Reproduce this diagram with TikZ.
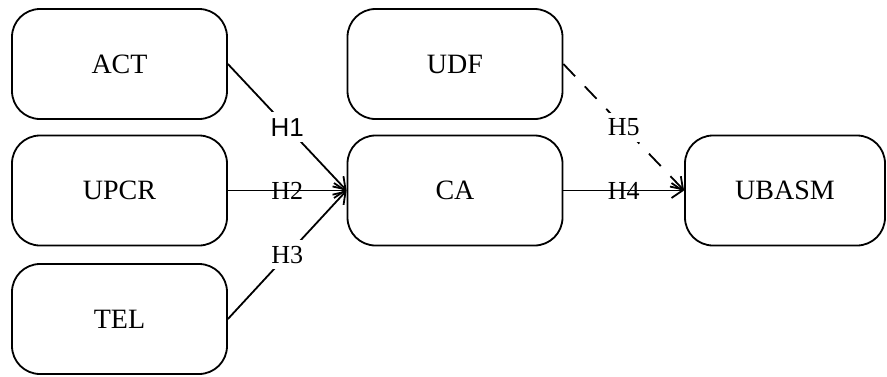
\documentclass[tikz,border=0pt]{standalone}
\usepackage{fontspec}
\setmainfont{Liberation Serif}
\newfontfamily\hsans{Liberation Sans}
\usetikzlibrary{arrows.meta}
\usetikzlibrary{positioning}
\tikzset{
    factor/.style={draw=black, rounded corners=28pt, minimum width=215pt,
        minimum height=110pt, inner sep=0pt, font=\fontsize{28}{32}\selectfont},
    effect/.style={draw=black, -{Straight Barb[length=11pt,width=15pt]}},
    effectdash/.style={effect, dash pattern=on 17pt off 14pt},
    hyp/.style={fill=white, inner sep=6pt, font=\fontsize{26}{30}\selectfont},
    hypline/.style={inner sep=0pt, font=\fontsize{26}{30}\selectfont},
}

\begin{document}
\begin{tikzpicture}[x=1pt, y=-1pt, line width=1.8pt]
	\useasboundingbox (0,0) rectangle (887,376);
	% antecedents
	\node[factor] (act) at (119.5,64) {ACT};
	\node[factor] (upcr) at (119.5,190.5) {UPCR};
	\node[factor] (tel) at (119.5,319) {TEL};
	% mediator and moderator
	\node[factor] (udf) at (455,64) {UDF};
	\node[factor] (ca) at (455,190.5) {CA};
	% outcome
	\node[factor, minimum width=200pt] (ubasm) at (785,190.5) {UBASM};
	\draw[effect] (act.east) -- node[hyp] {\hsans H1} (ca.west);
	\draw[effect] (upcr.east) -- node[hypline] {H2} (ca.west);
	\draw[effect] (tel.east) -- node[hyp] {H3} (ca.west);
	\draw[effect] (ca.east) -- node[hypline] {H4} (ubasm.west);
	\draw[effectdash] (udf.east) -- node[hyp] {H5} (ubasm.west);
\end{tikzpicture}
\end{document}
